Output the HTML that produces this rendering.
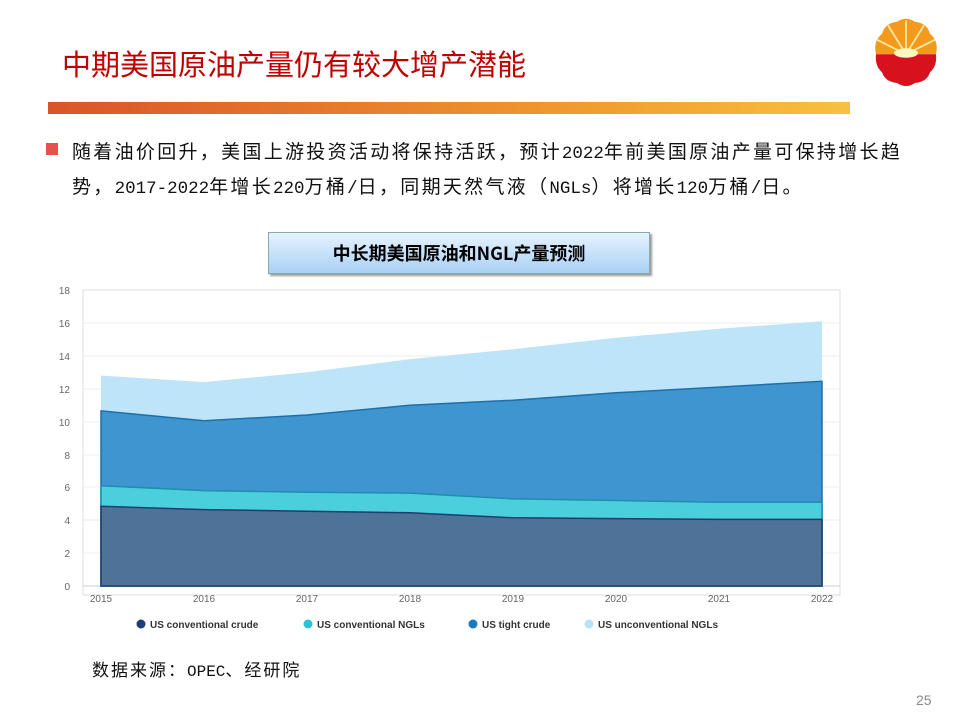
<!DOCTYPE html>
<html><head><meta charset="utf-8"><style>
body{margin:0;width:960px;height:720px;background:#fff;position:relative;overflow:hidden;font-family:"Liberation Sans","Noto Sans CJK SC",sans-serif}
.t{position:absolute;white-space:nowrap}
.p{font-family:'Noto Sans CJK SC',sans-serif;font-size:19px;letter-spacing:2.3px;color:#111}
.p span{font-family:'Liberation Mono',monospace;font-size:17.5px;letter-spacing:0}
</style></head><body>
<div class="t" style="left:62px;top:42px;font-size:29px;color:#c00000;font-family:'Noto Sans CJK SC',sans-serif">中期美国原油产量仍有较大增产潜能</div>
<div style="position:absolute;left:48px;top:102px;width:802px;height:12px;background:linear-gradient(90deg,#d9542a,#f0a030 70%,#f8c040)"></div>
<svg style="position:absolute;left:870px;top:17px" width="72" height="72" viewBox="0 0 120 120">
<g>
<path d="M10,62 Q5,40 20,28 Q25,10 45,8 Q60,-2 75,8 Q95,10 100,28 Q115,40 110,62 Z" fill="#f39a1e"/>
<path d="M10,62 L110,62 Q112,82 100,92 Q95,108 75,110 Q60,120 45,110 Q25,108 20,92 Q8,82 10,62Z" fill="#d7121e"/>
<g stroke="#ffe9a0" stroke-width="3"><line x1="60" y1="62" x2="60" y2="6"/><line x1="60" y1="62" x2="30" y2="14"/><line x1="60" y1="62" x2="90" y2="14"/><line x1="60" y1="62" x2="12" y2="38"/><line x1="60" y1="62" x2="108" y2="38"/></g>
<ellipse cx="60" cy="60" rx="20" ry="8" fill="#fff6c0"/>
</g></svg>
<div style="position:absolute;left:46px;top:143px;width:12px;height:12px;background:#e8514a"></div>
<div class="t p" style="left:72px;top:135px;line-height:32px">随着油价回升，美国上游投资活动将保持活跃，预计<span>2022</span>年前美国原油产量可保持增长趋<br>势，<span>2017-2022</span>年增长<span>220</span>万桶<span>/</span>日，同期天然气液（<span>NGLs</span>）将增长<span>120</span>万桶<span>/</span>日。</div>
<div style="position:absolute;left:268px;top:232px;width:380px;height:40px;border:1px solid #8aa;background:linear-gradient(180deg,#e6f3ff,#a9d0f5);box-shadow:2px 2px 2px #999;text-align:center;line-height:40px;font-size:18px;font-weight:bold;color:#000;font-family:'Noto Sans CJK SC',sans-serif">中长期美国原油和NGL产量预测</div>
<svg style="position:absolute;left:0;top:0" width="960" height="720">
<rect x="83" y="290" width="757" height="305" fill="none" stroke="#ddd"/>
<g stroke="#eee">
<line x1="83" y1="323" x2="840" y2="323"/><line x1="83" y1="356" x2="840" y2="356"/><line x1="83" y1="389" x2="840" y2="389"/><line x1="83" y1="422" x2="840" y2="422"/><line x1="83" y1="455" x2="840" y2="455"/><line x1="83" y1="487" x2="840" y2="487"/><line x1="83" y1="520" x2="840" y2="520"/><line x1="83" y1="553" x2="840" y2="553"/><line x1="83" y1="586" x2="840" y2="586" stroke="#ccc"/>
</g>
<g font-size="10" fill="#666" text-anchor="end" font-family="Liberation Sans">
<text x="70" y="294">18</text><text x="70" y="327">16</text><text x="70" y="360">14</text><text x="70" y="393">12</text><text x="70" y="426">10</text><text x="70" y="459">8</text><text x="70" y="491">6</text><text x="70" y="524">4</text><text x="70" y="557">2</text><text x="70" y="590">0</text>
</g>
<path d="M101,375.6 L204,382.1 L307,372.3 L410,359.1 L513,349.3 L616,337.8 L719,328.7 L822,321.3 L822,586 L101,586Z" fill="#bde4f8"/>
<path d="M101,410.9 L204,420.8 L307,415 L410,405.2 L513,400.2 L616,392.8 L719,387.1 L822,381.3 L822,586 L101,586Z" fill="#3f95d0" stroke="#1f6fa8" stroke-width="1.5"/>
<path d="M101,485.7 L204,490.6 L307,492.3 L410,493.1 L513,498.9 L616,500.5 L719,502.2 L822,502.2 L822,586 L101,586Z" fill="#4ccfdc" stroke="#1d8fb0" stroke-width="1.5"/>
<path d="M101,506.3 L204,509.6 L307,511.2 L410,512.8 L513,517.8 L616,518.6 L719,519.4 L822,519.4 L822,586 L101,586Z" fill="#4f7299" stroke="#1c3e6e" stroke-width="1.5"/>
<g font-size="10" fill="#666" text-anchor="middle" font-family="Liberation Sans">
<text x="101" y="602">2015</text><text x="204" y="602">2016</text><text x="307" y="602">2017</text><text x="410" y="602">2018</text><text x="513" y="602">2019</text><text x="616" y="602">2020</text><text x="719" y="602">2021</text><text x="822" y="602">2022</text>
</g>
<g font-size="10" font-weight="bold" fill="#333" font-family="Liberation Sans">
<circle cx="141" cy="624" r="4.5" fill="#1c3e7a"/><text x="150" y="628">US conventional crude</text>
<circle cx="308" cy="624" r="4.5" fill="#2ec4cf"/><text x="317" y="628">US conventional NGLs</text>
<circle cx="473" cy="624" r="4.5" fill="#1a78c0"/><text x="482" y="628">US tight crude</text>
<circle cx="589" cy="624" r="4.5" fill="#b8e2f8"/><text x="598" y="628">US unconventional NGLs</text>
</g>
</svg>
<div class="t p" style="left:92px;top:656px;font-size:17px;letter-spacing:2px">数据来源：<span style="font-size:16px">OPEC</span>、经研院</div>
<div class="t" style="left:916px;top:692px;font-size:14px;color:#888">25</div>
</body></html>
